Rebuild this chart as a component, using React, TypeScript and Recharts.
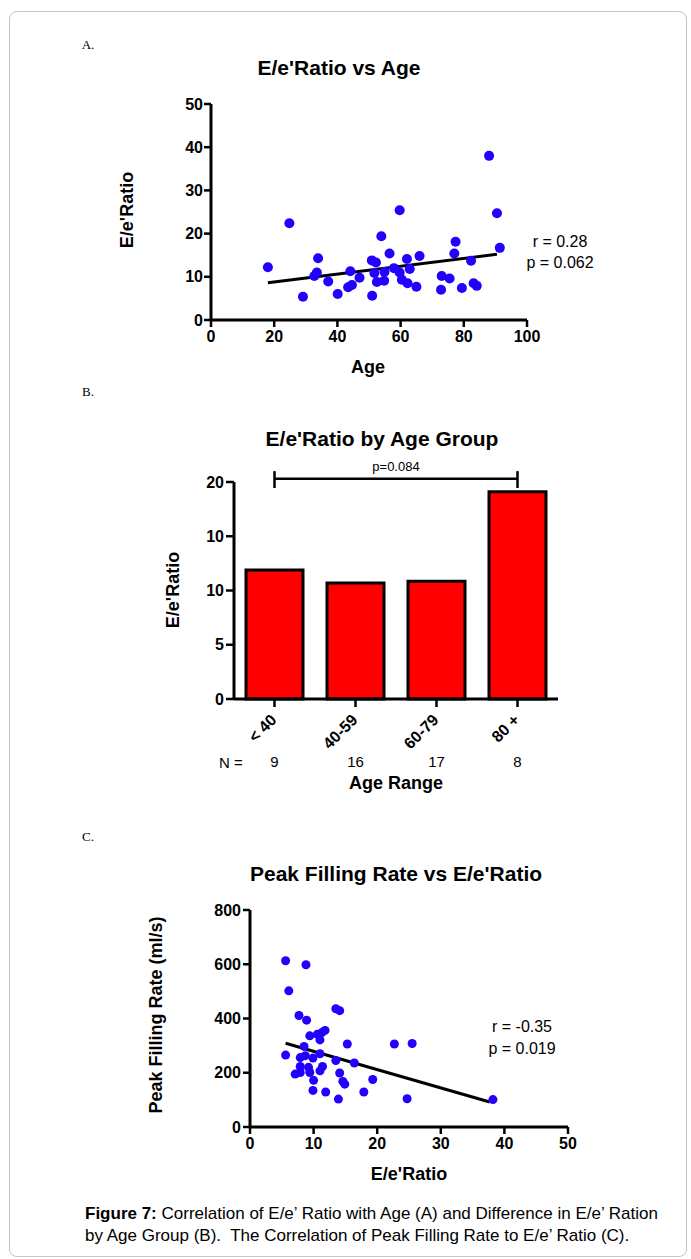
import React from "react"
import { Bar, BarChart, ReferenceLine, Scatter, ScatterChart, XAxis, YAxis } from "recharts"

const FONT = "'Liberation Sans', Arial, Helvetica, sans-serif"
const BLUE = "#2200ff"

// A. E/e' ratio vs age
const ageX = [18.0, 24.8, 29.1, 32.7, 33.5, 33.9, 37.1, 40.1, 43.4, 44.6, 44.1, 47.0, 50.9, 52.2, 51.0, 51.7, 52.5, 54.8, 54.9, 53.9, 56.5, 57.9, 59.7, 59.7, 60.4, 62.0, 62.2, 62.9, 65.0, 66.0, 72.8, 73.0, 75.5, 77.0, 77.4, 79.4, 82.3, 83.1, 84.1, 88.0, 90.5, 91.4]
const ratioA = [12.2, 22.4, 5.4, 10.2, 11.0, 14.3, 8.9, 6.0, 7.6, 8.1, 11.3, 9.8, 13.8, 13.3, 5.6, 10.9, 8.8, 9.1, 11.1, 19.4, 15.4, 12.0, 25.4, 11.0, 9.3, 14.1, 8.5, 11.8, 7.7, 14.8, 7.0, 10.2, 9.6, 15.4, 18.1, 7.4, 13.7, 8.5, 7.9, 38.0, 24.7, 16.7]
const fitA = [{ x: 18, y: 8.6 }, { x: 90.5, y: 15.2 }]
const ticksAgeX = [0, 20, 40, 60, 80, 100]
const ticksRatioY = [0, 10, 20, 30, 40, 50]

// B. E/e' ratio by age group
const groups = ["< 40", "40-59", "60-79", "80 +"]
const groupMeans = [11.9, 10.7, 10.85, 19.1]
const groupN = [9, 16, 17, 8]
const ticksB = [0, 5, 10, 15, 20]
const tickLabelsB = ["0", "5", "10", "10", "20"]
const bracketY = 20.3
const bracketEnds = [19.45, 21.0]

// C. Peak filling rate vs E/e' ratio
const ratioC = [5.6, 8.8, 6.1, 7.7, 8.9, 13.5, 14.1, 9.4, 10.6, 11.3, 11.8, 11.0, 8.5, 5.6, 7.9, 8.7, 9.9, 11.0, 15.3, 13.5, 16.4, 22.7, 25.5, 7.9, 9.2, 11.4, 7.1, 7.9, 9.4, 11.0, 14.1, 10.0, 14.6, 14.9, 19.3, 9.9, 11.9, 17.9, 13.9, 24.7, 38.2]
const pfr = [613, 598, 502, 411, 394, 436, 429, 336, 342, 348, 356, 321, 297, 265, 256, 263, 254, 270, 306, 245, 236, 306, 308, 223, 220, 223, 195, 201, 201, 207, 199, 172, 168, 158, 175, 135, 129, 129, 103, 104, 101]
const fitC = [{ x: 5.6, y: 309 }, { x: 37.7, y: 92 }]
const ticksRatioX = [0, 10, 20, 30, 40, 50]
const ticksPfr = [0, 200, 400, 600, 800]

const dataA = ageX.map((x, i) => ({ x, y: ratioA[i] }))
const dataB = groups.map((group, i) => ({ group, value: groupMeans[i], n: groupN[i] }))
const dataC = ratioC.map((x, i) => ({ x, y: pfr[i] }))

const tickStyle = { fill: "#000", fontSize: 16, fontWeight: 700, fontFamily: FONT }
const axisLine = { stroke: "#000", strokeWidth: 3 }
const tickLine = { stroke: "#000", strokeWidth: 2.5 }

function Txt({ x, y, size, bold, rotate, serif, children }: any) {
  return (
    <div
      style={{
        position: "absolute",
        left: x,
        top: y,
        transform: `translate(-50%, -50%)${rotate ? ` rotate(${rotate}deg)` : ""}`,
        whiteSpace: "nowrap",
        fontFamily: serif ? "'Liberation Serif', 'Times New Roman', serif" : FONT,
        fontSize: size,
        fontWeight: bold ? 700 : 400,
        lineHeight: 1,
        color: "#000",
      }}
    >
      {children}
    </div>
  )
}

const dot = (r: number) => (p: any) => <circle cx={p.cx} cy={p.cy} r={r} fill={BLUE} />

function GroupTick(props: any) {
  const { x, y, payload, index } = props
  return (
    <g>
      <text
        x={x + 3}
        y={y + 12}
        transform={`rotate(-45, ${x + 3}, ${y + 12})`}
        textAnchor="end"
        fill="#000"
        fontSize={16}
        fontWeight={700}
        fontFamily={FONT}
      >
        {payload.value}
      </text>
      <text x={x} y={y + 58} textAnchor="middle" fill="#000" fontSize={15} fontFamily={FONT}>
        {groupN[index]}
      </text>
    </g>
  )
}

export default function App() {
  return (
    <div style={{ position: "absolute", left: 0, top: 0, width: 691, height: 1259, background: "#fff" }}>
      <div
        style={{
          position: "absolute",
          left: 9,
          top: 11,
          width: 676,
          height: 1244,
          border: "1px solid #c4c4c4",
          borderRadius: 8,
        }}
      />

      {/* Panel A */}
      <Txt x={88} y={44} size={13} serif>A.</Txt>
      <Txt x={339} y={67} size={21} bold>E/e'Ratio vs Age</Txt>
      <Txt x={127} y={210} size={18} bold rotate={-90}>E/e'Ratio</Txt>
      <Txt x={368} y={367} size={18} bold>Age</Txt>
      <Txt x={560} y={242} size={16}>r = 0.28</Txt>
      <Txt x={560} y={263} size={16}>p = 0.062</Txt>
      <div style={{ position: "absolute", left: 100, top: 80 }}>
        <ScatterChart width={460} height={300} margin={{ top: 24, right: 33, bottom: 20, left: 61 }}>
          <XAxis
            type="number"
            dataKey="x"
            domain={[0, 100]}
            ticks={ticksAgeX}
            height={40}
            tick={tickStyle}
            axisLine={axisLine}
            tickLine={tickLine}
            tickSize={7}
            tickMargin={4}
          />
          <YAxis
            type="number"
            dataKey="y"
            domain={[0, 50]}
            ticks={ticksRatioY}
            width={50}
            tick={tickStyle}
            axisLine={axisLine}
            tickLine={tickLine}
            tickSize={7}
            tickMargin={1}
          />
          <ReferenceLine segment={fitA} stroke="#000" strokeWidth={3} />
          <Scatter data={dataA} shape={dot(5)} isAnimationActive={false} />
        </ScatterChart>
      </div>

      {/* Panel B */}
      <Txt x={88} y={391} size={13} serif>B.</Txt>
      <Txt x={382} y={438} size={21} bold>E/e'Ratio by Age Group</Txt>
      <Txt x={173} y={590} size={18} bold rotate={-90}>E/e'Ratio</Txt>
      <Txt x={231} y={762} size={15}>N =</Txt>
      <Txt x={396} y={783} size={18} bold>Age Range</Txt>
      <div style={{ position: "absolute", left: 150, top: 450 }}>
        <BarChart
          width={440}
          height={330}
          data={dataB}
          barCategoryGap={12}
          margin={{ top: 32, right: 32, bottom: 11, left: 34 }}
        >
          <XAxis
            dataKey="group"
            interval={0}
            height={70}
            tick={<GroupTick />}
            axisLine={axisLine}
            tickLine={tickLine}
            tickSize={8}
          />
          <YAxis
            type="number"
            domain={[0, 20]}
            ticks={ticksB}
            tickFormatter={(v: number) => tickLabelsB[ticksB.indexOf(v)]}
            width={50}
            tick={tickStyle}
            axisLine={axisLine}
            tickLine={tickLine}
            tickSize={8}
            tickMargin={2}
          />
          <Bar dataKey="value" fill="#ff0000" stroke="#000" strokeWidth={3} isAnimationActive={false} />
          <ReferenceLine
            segment={[{ x: groups[0], y: bracketY }, { x: groups[3], y: bracketY }]}
            stroke="#000"
            strokeWidth={2.5}
            ifOverflow="visible"
            label={{ value: "p=0.084", position: "top", fill: "#000", fontSize: 13, fontFamily: FONT, offset: 8 }}
          />
          <ReferenceLine
            segment={[{ x: groups[0], y: bracketEnds[0] }, { x: groups[0], y: bracketEnds[1] }]}
            stroke="#000"
            strokeWidth={2.5}
            ifOverflow="visible"
          />
          <ReferenceLine
            segment={[{ x: groups[3], y: bracketEnds[0] }, { x: groups[3], y: bracketEnds[1] }]}
            stroke="#000"
            strokeWidth={2.5}
            ifOverflow="visible"
          />
        </BarChart>
      </div>

      {/* Panel C */}
      <Txt x={88} y={836} size={13} serif>C.</Txt>
      <Txt x={396} y={873} size={21} bold>Peak Filling Rate vs E/e'Ratio</Txt>
      <Txt x={156} y={1015} size={18} bold rotate={-90}>Peak Filling Rate (ml/s)</Txt>
      <Txt x={409} y={1174} size={18} bold>E/e'Ratio</Txt>
      <Txt x={522} y={1027} size={16}>r = -0.35</Txt>
      <Txt x={522} y={1049} size={16}>p = 0.019</Txt>
      <div style={{ position: "absolute", left: 140, top: 880 }}>
        <ScatterChart width={460} height={300} margin={{ top: 30, right: 32, bottom: 13, left: 60 }}>
          <XAxis
            type="number"
            dataKey="x"
            domain={[0, 50]}
            ticks={ticksRatioX}
            height={40}
            tick={tickStyle}
            axisLine={axisLine}
            tickLine={tickLine}
            tickSize={7}
            tickMargin={4}
          />
          <YAxis
            type="number"
            dataKey="y"
            domain={[0, 800]}
            ticks={ticksPfr}
            width={50}
            tick={tickStyle}
            axisLine={axisLine}
            tickLine={tickLine}
            tickSize={7}
            tickMargin={2}
          />
          <ReferenceLine segment={fitC} stroke="#000" strokeWidth={3} />
          <Scatter data={dataC} shape={dot(4.5)} isAnimationActive={false} />
        </ScatterChart>
      </div>

      {/* Caption */}
      <div
        style={{
          position: "absolute",
          left: 85,
          top: 1203,
          fontFamily: FONT,
          fontSize: 17,
          lineHeight: "22px",
          color: "#000",
          whiteSpace: "nowrap",
        }}
      >
        <b>Figure 7:</b> Correlation of E/e’ Ratio with Age (A) and Difference in E/e’ Ration
        <br />
        by Age Group (B).&nbsp; The Correlation of Peak Filling Rate to E/e’ Ratio (C).
      </div>
    </div>
  )
}
